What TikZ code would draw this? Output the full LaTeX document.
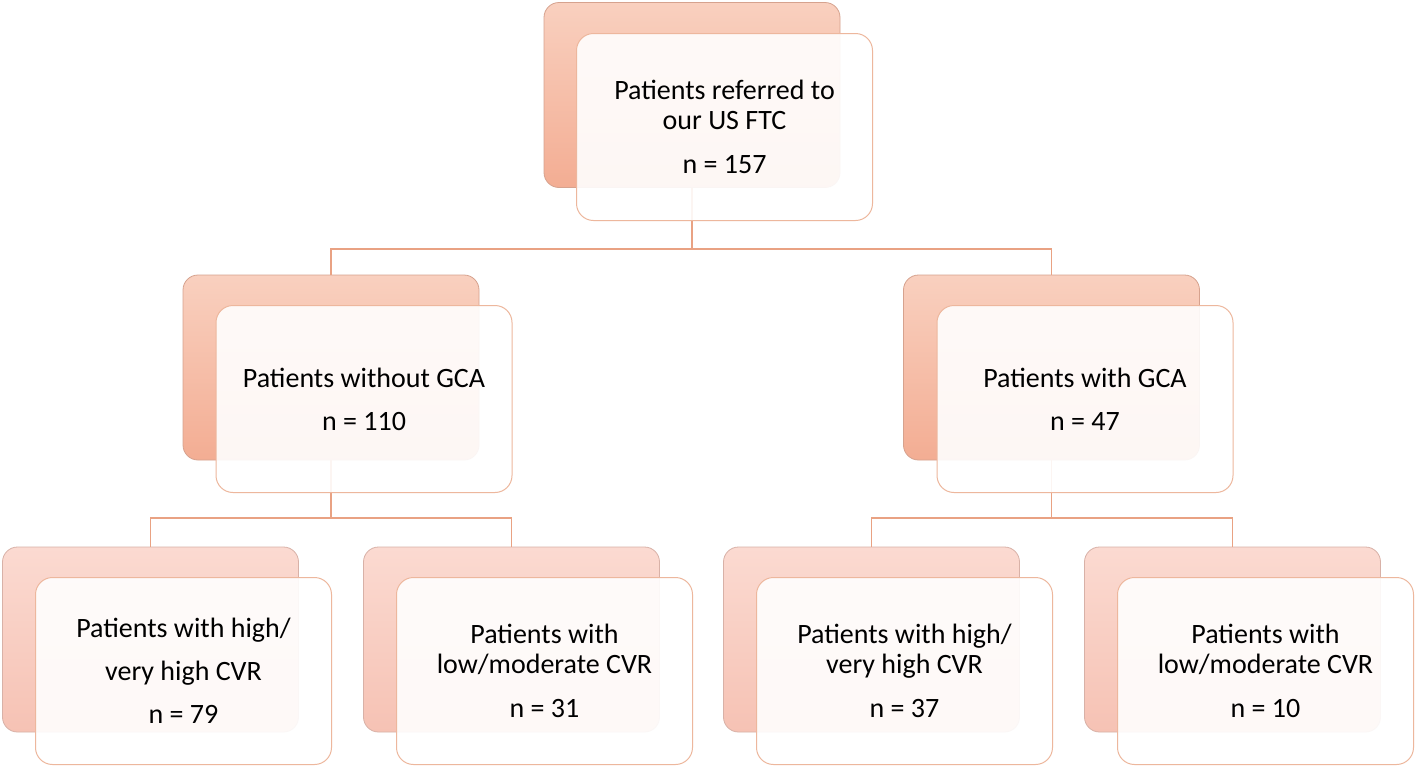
\documentclass[tikz,border=0pt]{standalone}
\usepackage{fontspec}
\setmainfont{Carlito}
\begin{document}
\begin{tikzpicture}[x=1pt,y=-1pt,
  backbox/.style={rectangle,rounded corners=15pt,minimum width=296pt,minimum height=185pt,inner sep=0pt,draw=#1!75!gray,line width=0.8pt},
  backtop/.style={backbox=backA,top color=backB,bottom color=backA},
  backbot/.style={backbox=backC,top color=backD,bottom color=backC},
  frontbox/.style={rectangle,rounded corners=17pt,minimum width=296pt,minimum height=187pt,inner sep=0pt,draw=frontline,line width=1pt,fill=white,fill opacity=0.9,text opacity=1,align=center,font=\fontsize{28}{43}\selectfont},
  tight/.style={font=\fontsize{28}{30}\selectfont},
  link/.style={draw=linkc,line width=1.5pt}]
\definecolor{backA}{HTML}{F3AD93}
\definecolor{backB}{HTML}{F9D0BF}
\definecolor{backC}{HTML}{F6C2B4}
\definecolor{backD}{HTML}{FBDAD1}
\definecolor{frontline}{HTML}{EDB79D}
\definecolor{linkc}{HTML}{E9A283}
\useasboundingbox[fill=white] (0,0) rectangle (1416,769);
% junction coordinates
\coordinate (j0) at (692,249);
\coordinate (j1) at (331,518);
\coordinate (j2) at (1051.5,518);
% back boxes
\node[backtop] (b0) at (692,95) {};
\node[backtop] (b1) at (331,367.5) {};
\node[backtop] (b2) at (1051.5,367.5) {};
\node[backbot] (b11) at (150.5,639.5) {};
\node[backbot] (b12) at (511.5,639.5) {};
\node[backbot] (b21) at (871.5,639.5) {};
\node[backbot] (b22) at (1232.5,639.5) {};
% connectors
\draw[link] (b0.south) -- (j0);
\draw[link] (j0) -| (b1.north);
\draw[link] (j0) -| (b2.north);
\draw[link] (b1.south) -- (j1);
\draw[link] (j1) -| (b11.north);
\draw[link] (j1) -| (b12.north);
\draw[link] (b2.south) -- (j2);
\draw[link] (j2) -| (b21.north);
\draw[link] (j2) -| (b22.north);
% front boxes
\node[frontbox,tight] (f0) at (724.5,127) {Patients referred to\\our US FTC\\[14pt]n = 157};
\node[frontbox] (f1) at (364,399) {Patients without GCA\\n = 110};
\node[frontbox] (f2) at (1085,399) {Patients with GCA\\n = 47};
\node[frontbox] (f11) at (183.5,671) {Patients with high/\\very high CVR\\n = 79};
\node[frontbox,tight] (f12) at (544.5,671) {Patients with\\low/moderate CVR\\[14pt]n = 31};
\node[frontbox,tight] (f21) at (904.5,671) {Patients with high/\\very high CVR\\[14pt]n = 37};
\node[frontbox,tight] (f22) at (1265.5,671) {Patients with\\low/moderate CVR\\[14pt]n = 10};
\end{tikzpicture}
\end{document}
